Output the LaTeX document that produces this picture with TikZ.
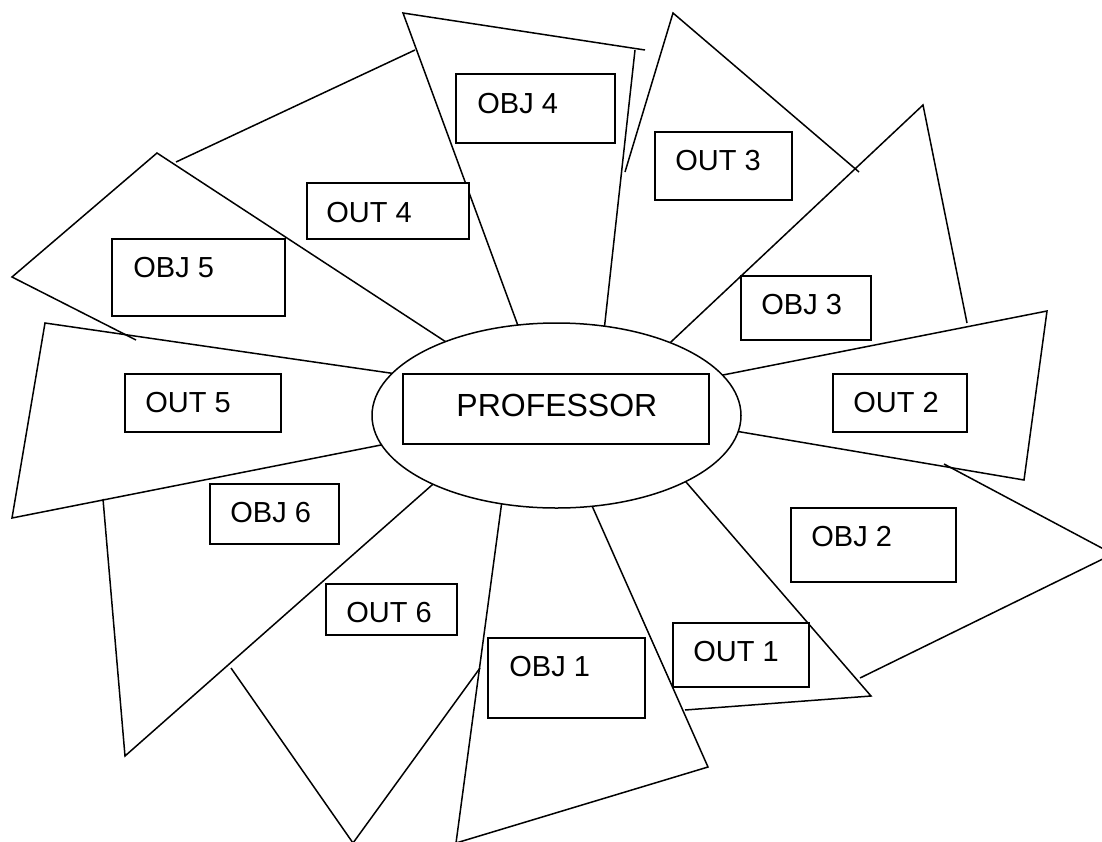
\documentclass[tikz,border=0pt]{standalone}
\usepackage{fontspec}
\setmainfont{Liberation Sans}
\usetikzlibrary{shapes.geometric}

\tikzset{
  wedge/.style={line width=0.75pt, line join=miter},
  inend/.style={shorten <=-4pt},
  outend/.style={shorten >=-4pt},
  box/.style={draw, fill=white, line width=0.6pt},
  lbl/.style={anchor=base west, inner sep=0pt, font=\fontsize{14.5}{17}\selectfont},
}

\begin{document}
\begin{tikzpicture}[x=0.5pt, y=-0.5pt]
        % the page
        \clip (0,0) rectangle (1102,841);
        \fill[white] (0,0) rectangle (1102,841);

        % the petals round the centre
        \draw[wedge, inend] (517,323) -- (403,13) -- (645,50);
        \draw[wedge, outend] (635,50) -- (605,322);
        \draw[wedge] (415,50) -- (176,162);
        \draw[wedge, inend] (443,340) -- (157,153) -- (12,277) -- (136,340);
        \draw[wedge, inend, outend] (390,373) -- (45,323) -- (12,518) -- (381,445);
        \draw[wedge, outend] (103,499) -- (125,756) -- (432,485);
        \draw[wedge] (231,668) -- (353,843) -- (480,668);
        \draw[wedge, inend, outend] (501,508) -- (456,843) -- (708,767) -- (593,508);
        \draw[wedge, inend] (686,482) -- (871,696) -- (685,710);
        \draw[wedge] (944,464) -- (1113,554) -- (860,678);
        \draw[wedge, inend, outend] (728,374) -- (1047,311) -- (1024,480) -- (741,432);
        \draw[wedge, inend] (673,340) -- (923,105) -- (967,323);
        \draw[wedge] (625,172) -- (673,13) -- (859,172);

        % the centre
        \node[ellipse, draw, fill=white, line width=0.75pt, inner sep=0pt,
              minimum width=184.5pt, minimum height=92.5pt] (ring) at (556.5,415.5) {};
        \draw[box] (403,374) rectangle (709,444);
        \node[anchor=base west, inner sep=0pt, font=\fontsize{16}{19}\selectfont]
              (prof) at (456,416) {PROFESSOR};

        % objectives and outcomes
        \draw[box] (456,74) rectangle (615,143);
        \node[lbl] (obj4) at (477,113) {OBJ 4};
        \draw[box] (307,183) rectangle (469,239);
        \node[lbl] (out4) at (326,222) {OUT 4};
        \draw[box] (112,239) rectangle (285,316);
        \node[lbl] (obj5) at (133,277) {OBJ 5};
        \draw[box] (125,374) rectangle (281,432);
        \node[lbl] (out5) at (145,412) {OUT 5};
        \draw[box] (655,132) rectangle (792,200);
        \node[lbl] (out3) at (675,170) {OUT 3};
        \draw[box] (741,276) rectangle (871,340);
        \node[lbl] (obj3) at (761,314) {OBJ 3};
        \draw[box] (833,374) rectangle (967,432);
        \node[lbl] (out2) at (853,412) {OUT 2};
        \draw[box] (210,484) rectangle (339,544);
        \node[lbl] (obj6) at (230,522) {OBJ 6};
        \draw[box] (326,584) rectangle (457,635);
        \node[lbl] (out6) at (346,622) {OUT 6};
        \draw[box] (488,638) rectangle (645,718);
        \node[lbl] (obj1) at (509,676) {OBJ 1};
        \draw[box] (673,623) rectangle (809,687);
        \node[lbl] (out1) at (693,661) {OUT 1};
        \draw[box] (791,508) rectangle (956,582);
        \node[lbl] (obj2) at (811,546) {OBJ 2};
\end{tikzpicture}
\end{document}
